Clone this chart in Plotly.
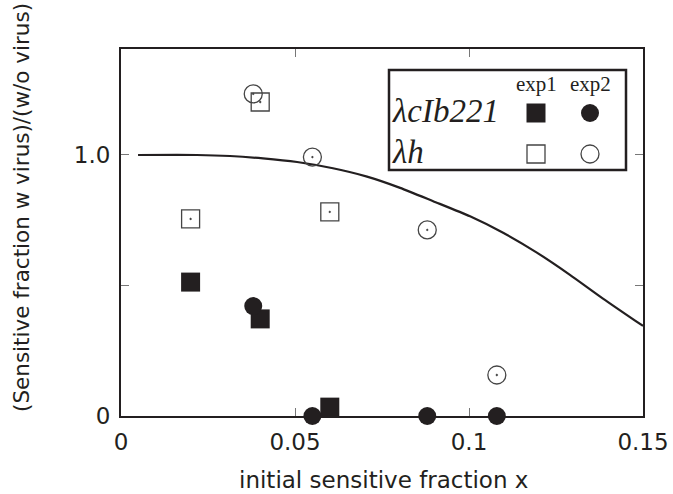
import plotly.graph_objects as go

# ---- data ----
cIb_exp1_x = [0.020, 0.040, 0.060]
cIb_exp1_y = [0.513, 0.372, 0.034]
cIb_exp2_x = [0.038, 0.055, 0.088, 0.108]
cIb_exp2_y = [0.421, 0.0, 0.0, 0.0]
h_exp1_x = [0.020, 0.040, 0.060]
h_exp1_y = [0.755, 1.203, 0.782]
h_exp2_x = [0.038, 0.055, 0.088, 0.108]
h_exp2_y = [1.234, 0.992, 0.713, 0.157]

curve_x = [0.0049, 0.0218, 0.0313, 0.0408, 0.0506, 0.0609, 0.0707, 0.0802, 0.0897,
           0.1003, 0.1098, 0.1195, 0.1290, 0.1385, 0.1500]
curve_y = [1.000, 1.000, 0.996, 0.987, 0.973, 0.949, 0.917, 0.874, 0.823,
           0.765, 0.702, 0.626, 0.541, 0.450, 0.345]

x_ticks = [0, 0.05, 0.1, 0.15]
x_ticklabels = ["0", "0.05", "0.1", "0.15"]
y_ticks = [0, 0.5, 1.0]
y_ticklabels = ["0", "", "1.0"]

DARK = "#231f20"
SANS = "DejaVu Sans"
SERIF = "Liberation Serif"

fig = go.Figure()

fig.add_trace(go.Scatter(x=curve_x, y=curve_y, mode="lines",
                         line=dict(color=DARK, width=2.2, shape="spline", smoothing=0.6),
                         hoverinfo="skip", showlegend=False))

def pts(x, y, sym, size, filled):
    if filled:
        m = dict(symbol=sym, size=size, color=DARK, line=dict(width=0))
    else:
        m = dict(symbol=sym, size=size, color="#444", line=dict(width=1.3, color="#444"))
    fig.add_trace(go.Scatter(x=x, y=y, mode="markers", marker=m, cliponaxis=False, showlegend=False))

pts(h_exp1_x, h_exp1_y, "square-open-dot", 18, False)
pts(h_exp2_x, h_exp2_y, "circle-open-dot", 18, False)
pts(cIb_exp1_x, cIb_exp1_y, "square", 19, True)
pts(cIb_exp2_x, cIb_exp2_y, "circle", 18, True)

W, H = 673, 494
L, R, T, B = 121, 30, 49, 78

def px(xp):
    return (xp - L) / (W - L - R)

def py(yp):
    return (H - B - yp) / (H - T - B)

# custom legend markers on overlay axes (fractions of the plot area)
leg_col_x = [px(536), px(590)]
leg_row_y = [py(113), py(154)]
fig.add_trace(go.Scatter(x=[leg_col_x[0]], y=[leg_row_y[0]], xaxis="x2", yaxis="y2", mode="markers",
                         marker=dict(symbol="square", size=19, color=DARK), showlegend=False))
fig.add_trace(go.Scatter(x=[leg_col_x[1]], y=[leg_row_y[0]], xaxis="x2", yaxis="y2", mode="markers",
                         marker=dict(symbol="circle", size=18, color=DARK), showlegend=False))
fig.add_trace(go.Scatter(x=[leg_col_x[0]], y=[leg_row_y[1]], xaxis="x2", yaxis="y2", mode="markers",
                         marker=dict(symbol="square-open", size=18, color="#444", line=dict(width=1.3)), showlegend=False))
fig.add_trace(go.Scatter(x=[leg_col_x[1]], y=[leg_row_y[1]], xaxis="x2", yaxis="y2", mode="markers",
                         marker=dict(symbol="circle-open", size=18, color="#444", line=dict(width=1.3)), showlegend=False))

fig.add_shape(type="rect", xref="paper", yref="paper", x0=px(389), x1=px(626), y0=py(170), y1=py(70),
              line=dict(color=DARK, width=2.5), fillcolor="white", layer="below")

ann = [
    dict(text="<i>λcIb221</i>", x=px(390), y=py(111), xanchor="left", size=33),
    dict(text="<i>λh</i>", x=px(390), y=py(152), xanchor="left", size=33),
    dict(text="exp1", x=px(536), y=py(84), xanchor="center", size=21),
    dict(text="exp2", x=px(590), y=py(84), xanchor="center", size=21),
]
for a in ann:
    fig.add_annotation(text=a["text"], x=a["x"], y=a["y"], xref="paper", yref="paper",
                       xanchor=a["xanchor"], yanchor="middle", showarrow=False,
                       font=dict(family=SERIF, size=a["size"], color=DARK))

fig.add_annotation(text="(Sensitive fraction w virus)/(w/o virus)", x=px(22), y=py(208), xref="paper", yref="paper",
                   textangle=-90, showarrow=False, xanchor="center", yanchor="middle",
                   font=dict(family=SANS, size=21.5, color=DARK))

fig.add_annotation(text="initial sensitive fraction x", x=px(383), y=py(480), xref="paper", yref="paper",
                   showarrow=False, xanchor="center", yanchor="middle",
                   font=dict(family=SANS, size=23, color=DARK))

axis_common = dict(showline=True, mirror="ticks", linecolor=DARK, linewidth=2, ticks="inside", ticklen=8,
                   tickcolor="#777", tickwidth=1.2, showgrid=False, zeroline=False, automargin=False,
                   tickfont=dict(family=SANS, size=23, color=DARK))

fig.update_layout(
    width=W, height=H,
    margin=dict(l=L, r=R, t=T, b=B),
    paper_bgcolor="white", plot_bgcolor="white",
    xaxis=dict(range=[0, 0.15], tickvals=x_ticks, ticktext=x_ticklabels, ticklabelstandoff=4, **axis_common),
    yaxis=dict(range=[0, 1.406], tickvals=y_ticks, ticktext=y_ticklabels, ticklabelstandoff=4, **axis_common),
    xaxis2=dict(range=[0, 1], overlaying="x", visible=False),
    yaxis2=dict(range=[0, 1], overlaying="y", visible=False),
)

fig.write_html("out.html", config={"displayModeBar": False},
               post_script="document.body.style.margin='0';document.body.style.overflow='hidden';")
